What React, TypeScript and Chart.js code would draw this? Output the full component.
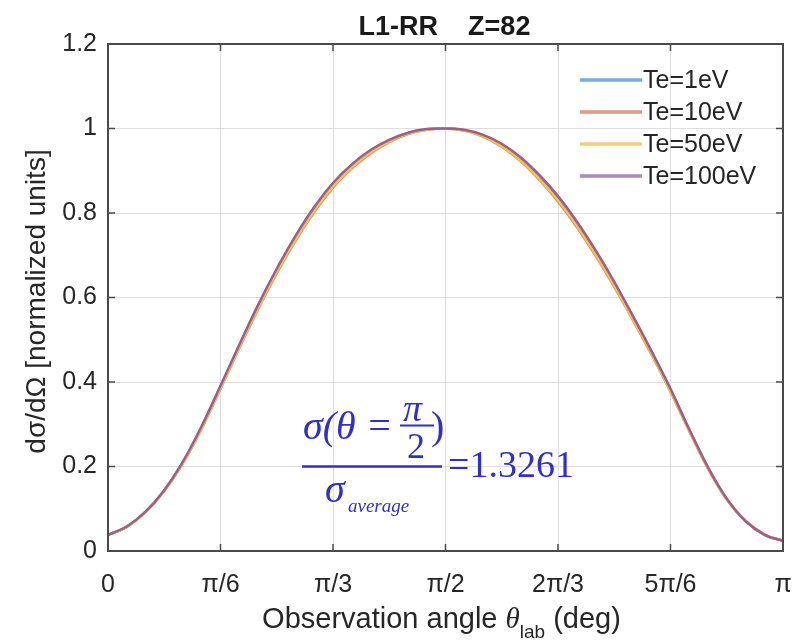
import React, { useEffect, useRef } from "react";
import { Chart, registerables } from "chart.js";

Chart.register(...registerables);

const TITLE = "L1-RR    Z=82";

const ANGLES_DEG = [0, 5, 10, 15, 20, 25, 30, 35, 40, 45, 50, 55, 60, 65, 70, 75, 80, 85, 90, 95, 100, 105, 110, 115, 120, 125, 130, 135, 140, 145, 150, 155, 160, 165, 170, 175, 180];

const TE_1EV = [0.038, 0.057, 0.092, 0.143, 0.21, 0.294, 0.389, 0.486, 0.58, 0.666, 0.744, 0.812, 0.869, 0.913, 0.947, 0.972, 0.989, 0.998, 1.0, 0.996, 0.984, 0.962, 0.93, 0.888, 0.837, 0.777, 0.709, 0.634, 0.554, 0.47, 0.382, 0.287, 0.197, 0.123, 0.071, 0.039, 0.024];
const TE_10EV = [0.038, 0.057, 0.092, 0.142, 0.208, 0.29, 0.384, 0.48, 0.572, 0.657, 0.734, 0.802, 0.86, 0.905, 0.941, 0.968, 0.987, 0.997, 1.0, 0.995, 0.981, 0.957, 0.923, 0.879, 0.827, 0.767, 0.699, 0.625, 0.546, 0.464, 0.377, 0.284, 0.195, 0.122, 0.071, 0.039, 0.024];
const TE_50EV = [0.038, 0.057, 0.092, 0.142, 0.209, 0.291, 0.385, 0.482, 0.574, 0.66, 0.737, 0.805, 0.863, 0.907, 0.943, 0.969, 0.988, 0.997, 1.0, 0.995, 0.982, 0.958, 0.925, 0.881, 0.83, 0.77, 0.702, 0.628, 0.548, 0.466, 0.378, 0.285, 0.196, 0.122, 0.071, 0.039, 0.024];
const TE_100EV = [0.038, 0.058, 0.093, 0.144, 0.212, 0.296, 0.391, 0.488, 0.582, 0.668, 0.746, 0.814, 0.871, 0.915, 0.949, 0.973, 0.99, 0.999, 1.0, 0.997, 0.985, 0.964, 0.932, 0.89, 0.84, 0.78, 0.712, 0.637, 0.556, 0.472, 0.384, 0.288, 0.198, 0.124, 0.071, 0.039, 0.024];

const SERIES_LABELS = ["Te=1eV", "Te=10eV", "Te=50eV", "Te=100eV"];
const SERIES_COLORS = ["#5b8fc4", "#dc8560", "#f0c060", "#9c6088"];
const LEGEND_COLORS = ["#74aedb", "#e39a80", "#f2d080", "#a78bbb"];

const X_TICK_VALUES = [0, 30, 60, 90, 120, 150, 180];
const X_TICK_LABELS = ["0", "π/6", "π/3", "π/2", "2π/3", "5π/6", "π"];
const Y_MIN = 0;
const Y_MAX = 1.2;
const Y_STEP = 0.2;

const Y_AXIS_TITLE = "dσ/dΩ [normalized units]";
const X_TITLE_MAIN = "Observation angle ";
const X_TITLE_THETA = "θ";
const X_TITLE_SUB = "lab";
const X_TITLE_TAIL = " (deg)";

const RATIO_VALUE = "=1.3261";
const ANNOT_ANGLE = 52;
const ANNOT_LEVEL = 0.2;

const SANS = '"Liberation Sans", Arial, sans-serif';
const SERIF = '"Liberation Serif", "Times New Roman", serif';

const fmtY = (v: number) => {
  const r = Math.round(v * 10) / 10;
  return Number.isInteger(r) ? String(r) : r.toFixed(1);
};

const decorPlugin = {
  id: "matlabDecor",
  afterDraw(chart: any) {
    const ctx: CanvasRenderingContext2D = chart.ctx;
    const { left, right, top, bottom } = chart.chartArea;
    const xs = chart.scales.x;
    const ys = chart.scales.y;
    ctx.save();

    // box
    ctx.strokeStyle = "#4a4a4a";
    ctx.lineWidth = 2;
    ctx.strokeRect(left, top, right - left, bottom - top);

    // inward ticks
    ctx.lineWidth = 1.5;
    ctx.beginPath();
    for (const v of X_TICK_VALUES) {
      const px = xs.getPixelForValue(v);
      ctx.moveTo(px, bottom);
      ctx.lineTo(px, bottom - 7);
      ctx.moveTo(px, top);
      ctx.lineTo(px, top + 7);
    }
    for (let v = Y_MIN; v <= Y_MAX + 1e-9; v += Y_STEP) {
      const py = ys.getPixelForValue(v);
      ctx.moveTo(left, py);
      ctx.lineTo(left + 7, py);
      ctx.moveTo(right, py);
      ctx.lineTo(right - 7, py);
    }
    ctx.stroke();

    // title
    ctx.fillStyle = "#1a1a1a";
    ctx.font = `bold 27px ${SANS}`;
    ctx.textAlign = "center";
    ctx.textBaseline = "alphabetic";
    ctx.fillText(TITLE, (left + right) / 2 - 1, 35);

    // y axis title
    ctx.save();
    ctx.translate(37, (top + bottom) / 2 + 4);
    ctx.rotate(-Math.PI / 2);
    ctx.font = `28px ${SANS}`;
    ctx.fillStyle = "#262626";
    ctx.textAlign = "center";
    ctx.textBaseline = "middle";
    ctx.fillText(Y_AXIS_TITLE, 0, 0);
    ctx.restore();

    // x axis title
    ctx.fillStyle = "#262626";
    ctx.textAlign = "left";
    ctx.textBaseline = "alphabetic";
    const fMain = `29px ${SANS}`;
    const fTheta = `italic 29px ${SERIF}`;
    const fSub = `19px ${SANS}`;
    ctx.font = fMain;
    const w1 = ctx.measureText(X_TITLE_MAIN).width;
    const w4 = ctx.measureText(X_TITLE_TAIL).width;
    ctx.font = fTheta;
    const w2 = ctx.measureText(X_TITLE_THETA).width;
    ctx.font = fSub;
    const w3 = ctx.measureText(X_TITLE_SUB).width;
    const total = w1 + w2 + w3 + w4;
    let cx = (left + right) / 2 - 4 - total / 2;
    const base = 628;
    ctx.font = fMain;
    ctx.fillText(X_TITLE_MAIN, cx, base);
    cx += w1;
    ctx.font = fTheta;
    ctx.fillText(X_TITLE_THETA, cx, base);
    cx += w2;
    ctx.font = fSub;
    ctx.fillText(X_TITLE_SUB, cx, base + 10);
    cx += w3;
    ctx.font = fMain;
    ctx.fillText(X_TITLE_TAIL, cx, base);

    // legend
    const lx = right - 203;
    const ly = top + 36;
    ctx.font = `25px ${SANS}`;
    ctx.textBaseline = "middle";
    SERIES_LABELS.forEach((lab, i) => {
      const y = ly + i * 32;
      ctx.strokeStyle = LEGEND_COLORS[i];
      ctx.lineWidth = 3.5;
      ctx.beginPath();
      ctx.moveTo(lx, y);
      ctx.lineTo(lx + 62, y);
      ctx.stroke();
      ctx.fillStyle = "#262626";
      ctx.fillText(lab, lx + 63, y + 1);
    });

    // annotation
    const ax = xs.getPixelForValue(ANNOT_ANGLE);
    const ay = ys.getPixelForValue(ANNOT_LEVEL);
    const blue = "#3030c4";
    ctx.fillStyle = blue;
    ctx.strokeStyle = blue;
    ctx.textBaseline = "alphabetic";
    ctx.textAlign = "left";
    ctx.font = `italic 40px ${SERIF}`;
    ctx.fillText("σ(θ =", ax, ay - 28);
    ctx.font = `italic 38px ${SERIF}`;
    ctx.fillText("π", ax + 100, ay - 46);
    ctx.lineWidth = 2;
    ctx.beginPath();
    ctx.moveTo(ax + 97, ay - 41);
    ctx.lineTo(ax + 131, ay - 41);
    ctx.stroke();
    ctx.font = `36px ${SERIF}`;
    ctx.fillText("2", ax + 104, ay - 9);
    ctx.font = `40px ${SERIF}`;
    ctx.fillText(")", ax + 128, ay - 28);
    ctx.lineWidth = 2.5;
    ctx.beginPath();
    ctx.moveTo(ax - 1, ay);
    ctx.lineTo(ax + 139, ay);
    ctx.stroke();
    ctx.font = `italic 40px ${SERIF}`;
    ctx.fillText("σ", ax + 22, ay + 35);
    ctx.font = `italic 19px ${SERIF}`;
    ctx.fillText("average", ax + 45, ay + 45);
    ctx.font = `38px ${SERIF}`;
    ctx.fillText(RATIO_VALUE, ax + 145, ay + 10);

    ctx.restore();
  },
};

export default function App() {
  const canvasRef = useRef<HTMLCanvasElement | null>(null);

  useEffect(() => {
    if (!canvasRef.current) return;
    const seriesValues = [TE_1EV, TE_10EV, TE_50EV, TE_100EV];
    const chart = new Chart(canvasRef.current, {
      type: "line",
      data: {
        datasets: seriesValues.map((vals, i) => ({
          label: SERIES_LABELS[i],
          data: ANGLES_DEG.map((a, j) => ({ x: a, y: vals[j] })),
          borderColor: SERIES_COLORS[i],
          borderWidth: 2.5,
          pointRadius: 0,
          fill: false,
          cubicInterpolationMode: "monotone",
          order: 4 - i,
        })),
      },
      options: {
        responsive: false,
        animation: false,
        devicePixelRatio: 1,
        layout: { padding: { left: 0, top: 44, right: 10, bottom: 0 } },
        plugins: {
          legend: { display: false },
          title: { display: false },
          tooltip: { enabled: false },
        },
        scales: {
          x: {
            type: "linear",
            min: 0,
            max: 180,
            afterBuildTicks: (s: any) => {
              s.ticks = X_TICK_VALUES.map((v) => ({ value: v }));
            },
            afterFit: (s: any) => {
              s.height = 90;
              s.paddingLeft = 0;
              s.paddingRight = 0;
            },
            ticks: {
              autoSkip: false,
              maxRotation: 0,
              padding: 19,
              color: "#262626",
              font: { family: SANS, size: 25 },
              callback: (v: any) => {
                const idx = X_TICK_VALUES.indexOf(Number(v));
                return idx >= 0 ? X_TICK_LABELS[idx] : "";
              },
            },
            grid: { color: "#dedede", lineWidth: 1, drawTicks: false },
            border: { display: false },
          },
          y: {
            type: "linear",
            min: Y_MIN,
            max: Y_MAX,
            afterFit: (s: any) => {
              s.width = 108;
              s.paddingTop = 0;
              s.paddingBottom = 0;
            },
            ticks: {
              stepSize: Y_STEP,
              padding: 11,
              color: "#262626",
              font: { family: SANS, size: 25 },
              callback: (v: any) => fmtY(Number(v)),
            },
            grid: { color: "#dedede", lineWidth: 1, drawTicks: false },
            border: { display: false },
          },
        },
      },
      plugins: [decorPlugin],
    });
    return () => chart.destroy();
  }, []);

  return (
    <canvas
      ref={canvasRef}
      width={793}
      height={641}
      style={{ position: "absolute", left: 0, top: 0, display: "block" }}
    />
  );
}
